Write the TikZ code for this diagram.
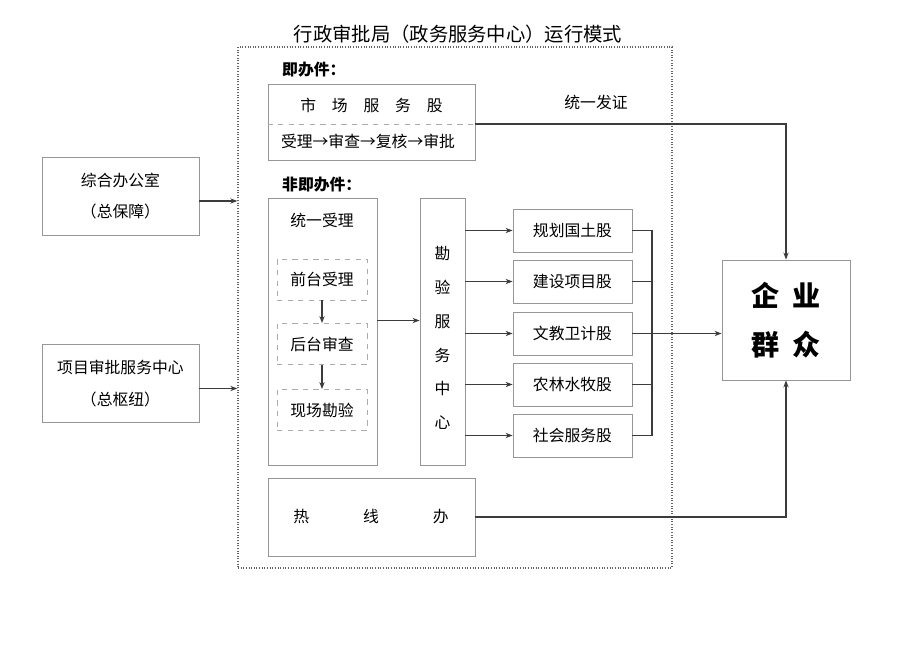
\documentclass[tikz,border=0pt]{standalone}
\usepackage{fontspec}
\setmainfont{Noto Sans CJK SC}
\usepackage{tikz}
\usetikzlibrary{calc,positioning,arrows.meta}

\definecolor{boxgray}{RGB}{150,150,150}
\definecolor{linegray}{RGB}{60,60,60}

\tikzset{
  box/.style={draw=boxgray, line width=0.5pt, inner sep=0pt, align=center},
  dbox/.style={box, dashed, draw=boxgray!80},
  conn/.style={draw=linegray, line width=0.8pt},
  txt/.style={font=\fontsize{9}{18}\selectfont},
}

\begin{document}
\begin{tikzpicture}[x=0.02cm, y=-0.02cm, >={Stealth[length=4pt,width=3pt]}]
            % Canvas
            \useasboundingbox (0,0) rectangle (920,651);
            % Title
            \node[font=\fontsize{11}{13}\selectfont] (title) at (458,34) {行政审批局（政务服务中心）运行模式};
            % Outer frame
            \node[box, densely dotted, draw=linegray!80, line width=0.8pt, minimum width=8.68cm, minimum height=10.42cm] (wb) at (455,307.5) {};
            % Immediate items
            \node[txt, anchor=west, font=\bfseries\fontsize{9}{11}\selectfont] (jb) at (276,70) {即办件：};
            \node[box, minimum width=4.14cm, minimum height=1.52cm] (ms) at (371.5,122) {};
            \draw[dashed, draw=boxgray!80] ($(ms.west)+(0,2)$) -- ($(ms.east)+(0,2)$);
            \node[txt] (msname) at (371.5,105) {市\quad 场\quad 服\quad 务\quad 股};
            \node[txt] (msflow) at (368,141) {受理→审查→复核→审批};
            \node[txt] (fz) at (596,102) {统一发证};
            % Non-immediate items
            \node[txt, anchor=west, font=\bfseries\fontsize{9}{11}\selectfont] (fjb) at (276,185) {非即办件：};
            \node[box, minimum width=2.18cm, minimum height=5.34cm] (ty) at (322.5,331.5) {};
            \node[txt] (tyname) at (322,220) {统一受理};
            \node[dbox, txt, minimum width=1.8cm, minimum height=0.82cm] (qt) at (322,279.5) {前台受理};
            \node[dbox, txt, minimum width=1.8cm, minimum height=0.82cm] (ht) at (322,344) {后台审查};
            \node[dbox, txt, minimum width=1.8cm, minimum height=0.82cm] (xc) at (322,410) {现场勘验};
            \draw[conn,->] (qt) -- (ht);
            \draw[conn,->] (ht) -- (xc);
            \node[box, minimum width=0.9cm, minimum height=5.34cm] (kc) at (442.5,331.5) {};
            \node[align=center, font=\fontsize{9}{19.3}\selectfont] (kcname) at (442.5,338) {勘\\验\\服\\务\\中\\心};
            \draw[conn,->] ($(ty.east)+(0,-11)$) -- ($(kc.west)+(0,-11)$);
            % Departments
            \node[box, txt, minimum width=2.38cm, minimum height=0.86cm] (gh) at (572.5,230.5) {规划国土股};
            \node[box, txt, minimum width=2.38cm, minimum height=0.86cm] (js) at (572.5,281.5) {建设项目股};
            \node[box, txt, minimum width=2.38cm, minimum height=0.86cm] (wj) at (572.5,333.5) {文教卫计股};
            \node[box, txt, minimum width=2.38cm, minimum height=0.86cm] (nl) at (572.5,384.5) {农林水牧股};
            \node[box, txt, minimum width=2.38cm, minimum height=0.86cm] (sh) at (572.5,435.5) {社会服务股};
            \foreach \d in {gh,js,wj,nl,sh}
              \draw[conn,->] (kc.east |- \d) -- (\d.west);
            \coordinate (bus) at (652,0);
            \draw[conn] (gh.east) -- (gh.east -| bus) -- (sh.east -| bus) -- (sh.east);
            \foreach \d in {js,wj,nl}
              \draw[conn] (\d.east) -- (\d.east -| bus);
            % Hotline
            \node[box, minimum width=4.14cm, minimum height=1.56cm] (rx) at (371.5,517) {};
            \node[txt] (rxname) at (371,517) {热\hspace{1.08cm}线\hspace{1.08cm}办};
            % Enterprises and public
            \node[box, minimum width=2.56cm, minimum height=2.4cm, font=\bfseries\fontsize{16}{28}\selectfont] (qy) at (786,320) {企\hspace{0.25cm}业\\群\hspace{0.25cm}众};
            \draw[conn,->] (wj.east) -- (wj.east -| qy.west);
            \draw[conn,->] ($(ms.east)+(0,2)$) -| (qy.north);
            \draw[conn,->] (rx.east) -| (qy.south);
            % Support offices
            \node[box, txt, minimum width=3.14cm, minimum height=1.56cm] (zh) at (120.5,196) {综合办公室\\（总保障）};
            \node[box, txt, minimum width=3.14cm, minimum height=1.56cm] (xm) at (120.5,383.5) {项目审批服务中心\\（总枢纽）};
            \draw[conn,->] ($(zh.east)+(0,5)$) -- ($(zh.east -| wb.west)+(0,5)$);
            \draw[conn,->] ($(xm.east)+(0,5)$) -- ($(xm.east -| wb.west)+(0,5)$);
        \end{tikzpicture}
\end{document}
